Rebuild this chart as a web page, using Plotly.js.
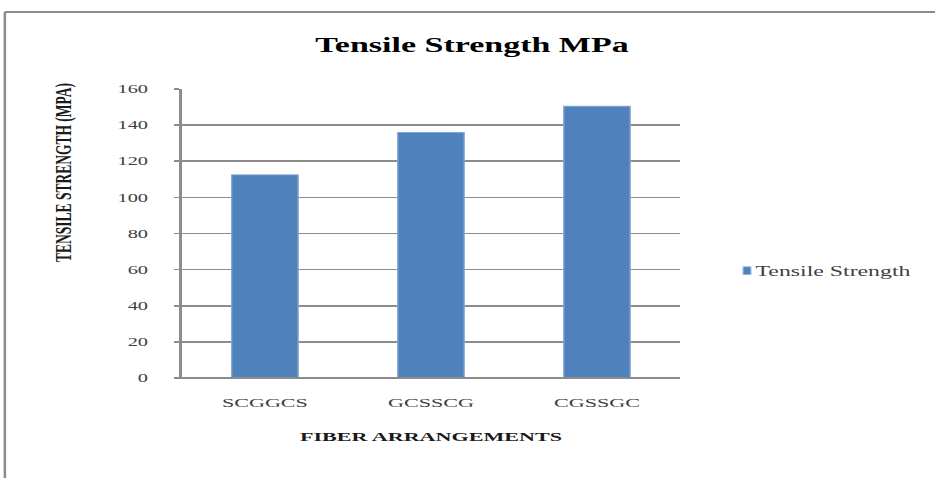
<!DOCTYPE html>
<html>
<head>
<meta charset="utf-8">
<script src="https://cdn.plot.ly/plotly-3.0.1.min.js"></script>
<style>
  html, body { margin: 0; padding: 0; background: #ffffff; overflow: hidden; }
  #wrap { width: 935px; height: 478px; overflow: hidden; position: relative; }
  /* the chart is laid out narrow and widened horizontally */
  #chart { position: absolute; left: 0; top: 0; transform-origin: 0 0; }
</style>
</head>
<body>
<div id="wrap"><div id="chart"></div></div>
<script>
// Fiber arrangements and their measured tensile strength (MPa)
const arrangements = ['SCGGCS', 'GCSSCG', 'CGSSGC'];
const tensileStrength = [112.5, 136, 150.5];
const yTicks = [0, 20, 40, 60, 80, 100, 120, 140, 160];

const serif = 'Liberation Serif, Times New Roman, serif';

// Horizontal widening factor of the drawing
const STRETCH = 1.7;

// Final page size and plot-area edges (screen pixels)
const W = 935, H = 478;
const L = 182, R = 255, T = 89, B = 100;
const pw = W - L - R, ph = H - T - B;
// screen pixel -> paper fraction
const px = x => (x - L) / pw;
const py = y => (H - B - y) / ph;

const chartDiv = document.getElementById('chart');
chartDiv.style.transform = 'scaleX(' + STRETCH + ')';

const trace = {
  type: 'bar',
  x: arrangements,
  y: tensileStrength,
  name: 'Tensile Strength',
  width: 0.4,
  marker: { color: '#4f81bd', line: { color: '#86a8d6', width: 0.8 } },
  hoverinfo: 'x+y'
};

const layout = {
  width: W / STRETCH,
  height: H,
  margin: { l: L / STRETCH, r: R / STRETCH, t: T, b: B, autoexpand: false },
  paper_bgcolor: '#ffffff',
  plot_bgcolor: '#ffffff',
  font: { family: serif, color: '#404040' },
  title: {
    text: '<b>Tensile Strength MPa</b>',
    font: { family: serif, size: 20, color: '#000000' },
    xref: 'container', x: 472 / W, xanchor: 'center',
    yref: 'container', y: 1 - 45 / H, yanchor: 'middle'
  },
  xaxis: {
    type: 'category',
    showline: false,
    showgrid: false,
    ticks: '',
    tickfont: { family: serif, size: 13, color: '#404040' },
    ticklabelstandoff: 15,
    title: {
      text: '<b>FIBER ARRANGEMENTS</b>',
      font: { family: serif, size: 13, color: '#1a1a1a' },
      standoff: 22
    },
    automargin: false,
    fixedrange: true
  },
  yaxis: {
    range: [0, 160],
    tickvals: yTicks,
    ticktext: yTicks.map(String),
    showline: true,
    linecolor: '#8c8c8c',
    linewidth: 1.5,
    showgrid: true,
    gridcolor: '#8c8c8c',
    gridwidth: 1.6,
    zeroline: true,
    zerolinecolor: '#8c8c8c',
    zerolinewidth: 2,
    ticks: 'outside',
    ticklen: 3,
    tickcolor: '#8c8c8c',
    tickwidth: 1.6,
    ticklabelstandoff: 13,
    tickfont: { family: serif, size: 12, color: '#404040' },
    automargin: false,
    fixedrange: true
  },
  showlegend: true,
  legend: {
    x: px(713), xanchor: 'left',
    y: py(271), yanchor: 'middle',
    font: { family: serif, size: 14, color: '#404040' },
    itemwidth: 30,
    bgcolor: 'rgba(0,0,0,0)'
  },
  annotations: [{
    text: '<b>TENSILE STRENGTH (MPA)</b>',
    textangle: -90,
    xref: 'paper', yref: 'paper',
    x: px(63), y: py(172),
    xanchor: 'center', yanchor: 'middle',
    showarrow: false,
    font: { family: serif, size: 13.5, color: '#1a1a1a' }
  }],
  shapes: [
    // chart frame (left and top edges)
    { type: 'line', xref: 'paper', yref: 'paper',
      x0: px(5), x1: px(5), y0: py(12), y1: py(H + 5),
      line: { color: '#8c8c8c', width: 1.5 } },
    { type: 'line', xref: 'paper', yref: 'paper',
      x0: px(5), x1: px(W + 5), y0: py(12), y1: py(12),
      line: { color: '#8c8c8c', width: 2 } },
    // bottom gridline runs a little past the axis on the left
    { type: 'line', xref: 'paper', yref: 'paper',
      x0: px(175), x1: 1, y0: 0, y1: 0,
      line: { color: '#8c8c8c', width: 2 } }
  ]
};

Plotly.newPlot(chartDiv, [trace], layout, { displayModeBar: false, staticPlot: true })
  .then(() => {
    // compact legend key: small square close to its label
    chartDiv.querySelectorAll('.legend .legendpoints path').forEach(p => {
      p.setAttribute('d', 'M2.2,3.8H-2.2V-3.8H2.2Z');
    });
    chartDiv.querySelectorAll('.legend text.legendtext').forEach(t => {
      t.setAttribute('x', 25);
    });
  });
</script>
</body>
</html>
